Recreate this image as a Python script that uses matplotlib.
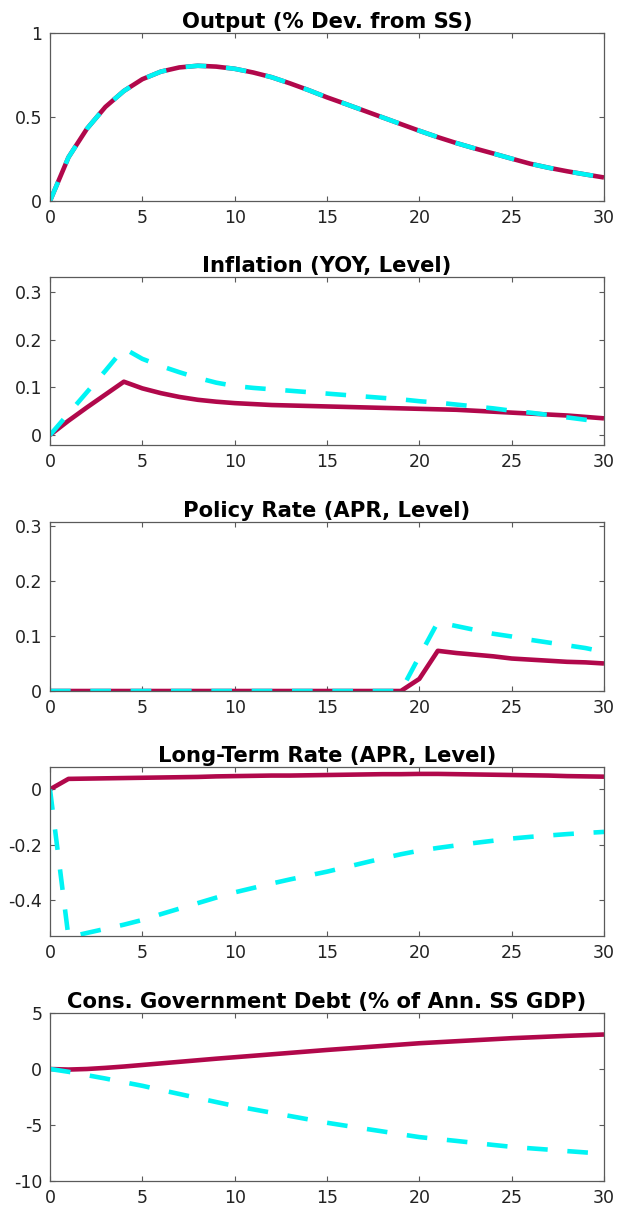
import matplotlib
matplotlib.use("Agg")
import matplotlib.pyplot as plt
import numpy as np

plt.rcParams["font.family"] = ["DejaVu Sans"]

quarters = np.arange(31)

output_base = [0, 0.26, 0.43, 0.56, 0.655, 0.725, 0.77, 0.795, 0.805, 0.80, 0.787,
               0.765, 0.737, 0.70, 0.66, 0.617, 0.578, 0.538, 0.498, 0.458, 0.418,
               0.38, 0.345, 0.313, 0.283, 0.252, 0.222, 0.198, 0.177, 0.158, 0.14]
output_alt = list(output_base)

infl_base = [0, 0.03, 0.058, 0.085, 0.112, 0.098, 0.088, 0.080, 0.074, 0.070, 0.067,
             0.065, 0.063, 0.062, 0.061, 0.060, 0.059, 0.058, 0.057, 0.056, 0.055,
             0.054, 0.053, 0.051, 0.049, 0.047, 0.045, 0.043, 0.041, 0.038, 0.035]
infl_alt = [0, 0.045, 0.09, 0.135, 0.182, 0.16, 0.145, 0.132, 0.12, 0.11, 0.103,
            0.099, 0.096, 0.093, 0.09, 0.087, 0.084, 0.081, 0.078, 0.075, 0.071,
            0.068, 0.064, 0.06, 0.056, 0.051, 0.047, 0.042, 0.037, 0.032, 0.026]

policy_base = [0] * 20 + [0.022, 0.073, 0.069, 0.066, 0.063, 0.059, 0.057, 0.055,
                          0.053, 0.052, 0.05]
policy_alt = [0] * 20 + [0.063, 0.125, 0.118, 0.111, 0.104, 0.099, 0.093, 0.088,
                         0.083, 0.078, 0.071]

long_base = [0, 0.038, 0.039, 0.040, 0.041, 0.042, 0.043, 0.044, 0.045, 0.047, 0.048,
             0.049, 0.050, 0.050, 0.051, 0.052, 0.053, 0.054, 0.055, 0.055, 0.056,
             0.056, 0.055, 0.054, 0.053, 0.052, 0.051, 0.050, 0.048, 0.047, 0.046]
long_alt = [0, -0.535, -0.52, -0.505, -0.49, -0.473, -0.452, -0.432, -0.412, -0.392,
            -0.373, -0.357, -0.341, -0.326, -0.312, -0.298, -0.282, -0.266, -0.25,
            -0.235, -0.222, -0.212, -0.203, -0.194, -0.186, -0.178, -0.172, -0.167,
            -0.162, -0.158, -0.154]

debt_base = [0, -0.05, 0.0, 0.1, 0.22, 0.36, 0.5, 0.64, 0.78, 0.92, 1.05,
             1.18, 1.31, 1.44, 1.57, 1.7, 1.82, 1.94, 2.06, 2.18, 2.3,
             2.39, 2.48, 2.57, 2.66, 2.75, 2.82, 2.89, 2.96, 3.02, 3.08]
debt_alt = [0, -0.25, -0.55, -0.85, -1.18, -1.5, -1.87, -2.23, -2.59, -2.95, -3.3,
            -3.6, -3.9, -4.2, -4.5, -4.8, -5.06, -5.32, -5.57, -5.83, -6.08,
            -6.25, -6.42, -6.6, -6.78, -6.95, -7.08, -7.2, -7.33, -7.45, -7.57]

titles = ["Output (% Dev. from SS)", "Inflation (YOY, Level)",
          "Policy Rate (APR, Level)", "Long-Term Rate (APR, Level)",
          "Cons. Government Debt (% of Ann. SS GDP)"]
solid_series = [output_base, infl_base, policy_base, long_base, debt_base]
dashed_series = [output_alt, infl_alt, policy_alt, long_alt, debt_alt]
ylims = [(0, 1), (-0.021, 0.332), (0, 0.307), (-0.531, 0.081), (-10, 5)]
yticks = [[0, 0.5, 1], [0, 0.1, 0.2, 0.3], [0, 0.1, 0.2, 0.3], [-0.4, -0.2, 0], [-10, -5, 0, 5]]
ylabels = [["0", "0.5", "1"], ["0", "0.1", "0.2", "0.3"], ["0", "0.1", "0.2", "0.3"],
           ["-0.4", "-0.2", "0"], ["-10", "-5", "0", "5"]]

# axes boxes in figure pixels: (top, bottom)
W, H = 620, 1206
boxes = [(33, 201), (277, 445), (522, 691), (767, 936), (1013, 1181)]
left, right = 50, 604

crimson = "#B1084B"
cyan = "#00F4F4"
lw = 3.3

fig = plt.figure(figsize=(W / 100, H / 100), dpi=100)
for i in range(5):
    top, bottom = boxes[i]
    ax = fig.add_axes([left / W, 1 - bottom / H, (right - left) / W, (bottom - top) / H])
    ax.plot(quarters, solid_series[i], color=crimson, lw=lw, solid_capstyle="butt")
    ax.plot(quarters, dashed_series[i], color=cyan, lw=lw, dashes=(4.5, 4.3),
            dash_capstyle="butt")
    ax.set_xlim(0, 30)
    ax.set_ylim(*ylims[i])
    ax.set_xticks([0, 5, 10, 15, 20, 25, 30])
    ax.set_yticks(yticks[i])
    ax.set_yticklabels(ylabels[i])
    ax.tick_params(direction="in", length=3.6, width=0.8, colors="#5a5a5a",
                   labelsize=12.5, labelcolor="#222222", top=True, right=True)
    ax.tick_params(axis="x", pad=5.5)
    ax.tick_params(axis="y", pad=5.5)
    for sp in ax.spines.values():
        sp.set_color("#5a5a5a")
        sp.set_linewidth(0.9)
    ax.set_title(titles[i], fontsize=15.2, fontweight="bold", pad=3.5)

fig.savefig("out.png", dpi=100)
